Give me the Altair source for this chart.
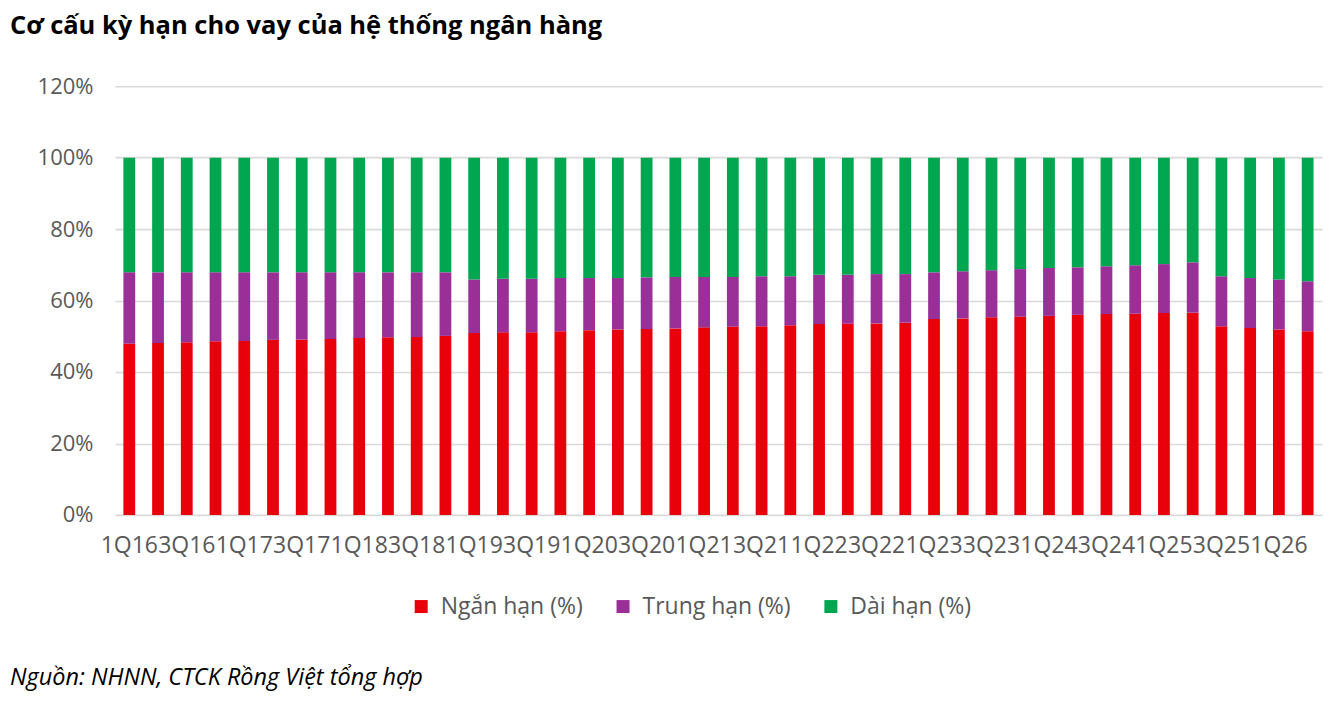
import altair as alt
import pandas as pd

quarters = [
    "1Q16", "2Q16", "3Q16", "4Q16", "1Q17", "2Q17", "3Q17", "4Q17",
    "1Q18", "2Q18", "3Q18", "4Q18", "1Q19", "2Q19", "3Q19", "4Q19",
    "1Q20", "2Q20", "3Q20", "4Q20", "1Q21", "2Q21", "3Q21", "4Q21",
    "1Q22", "2Q22", "3Q22", "4Q22", "1Q23", "2Q23", "3Q23", "4Q23",
    "1Q24", "2Q24", "3Q24", "4Q24", "1Q25", "2Q25", "3Q25", "4Q25",
    "1Q26", "2Q26",
]
tick_labels = [
    "1Q16", "3Q16", "1Q17", "3Q17", "1Q18", "3Q18", "1Q19", "3Q19",
    "1Q20", "3Q20", "1Q21", "3Q21", "1Q22", "3Q22", "1Q23", "3Q23",
    "1Q24", "3Q24", "1Q25", "3Q25", "1Q26",
]
ngan_han = [
    47.9, 48.1, 48.3, 48.6, 48.7, 49.0, 49.1, 49.2, 49.5, 49.7, 49.8, 50.1,
    50.9, 51.1, 51.1, 51.4, 51.7, 51.9, 52.0, 52.2, 52.5, 52.7, 52.8, 53.1,
    53.4, 53.5, 53.6, 53.8, 54.8, 55.0, 55.3, 55.5, 55.7, 56.0, 56.2, 56.3,
    56.5, 56.6, 52.8, 52.3, 51.9, 51.4,
]
trung_han = [
    20.0, 19.8, 19.6, 19.3, 19.2, 18.9, 18.8, 18.7, 18.4, 18.2, 18.1, 17.8,
    15.0, 15.0, 15.0, 14.9, 14.6, 14.4, 14.5, 14.4, 14.1, 13.9, 14.0, 13.7,
    13.8, 13.7, 13.8, 13.6, 13.1, 13.2, 13.2, 13.3, 13.4, 13.3, 13.4, 13.6,
    13.7, 14.1, 14.0, 14.0, 14.0, 14.0,
]
dai_han = [
    32.1, 32.1, 32.1, 32.1, 32.1, 32.1, 32.1, 32.1, 32.1, 32.1, 32.1, 32.1,
    34.1, 33.9, 33.9, 33.7, 33.7, 33.7, 33.5, 33.4, 33.4, 33.4, 33.2, 33.2,
    32.8, 32.8, 32.6, 32.6, 32.1, 31.8, 31.5, 31.2, 30.9, 30.7, 30.4, 30.1,
    29.8, 29.3, 33.2, 33.7, 34.1, 34.6,
]
series_names = ["Ngắn hạn (%)", "Trung hạn (%)", "Dài hạn (%)"]
series_colors = ["#E8000A", "#9A2F97", "#00A650"]
y_ticks = [0, 20, 40, 60, 80, 100, 120]

title_text = "Cơ cấu kỳ hạn cho vay của hệ thống ngân hàng"
source_text = "Nguồn: NHNN, CTCK Rồng Việt tổng hợp"

rows = []
for si, (name, vals) in enumerate(zip(series_names, [ngan_han, trung_han, dai_han])):
    for q, v in zip(quarters, vals):
        rows.append({"quy": q, "loai": name, "gia_tri": v, "thu_tu": si})
df = pd.DataFrame(rows)

FONT = "Open Sans"
TEXT_GRAY = "#595959"

bars = alt.Chart(df).mark_bar().encode(
    x=alt.X(
        "quy:N",
        sort=quarters,
        scale=alt.Scale(paddingInner=0.59, paddingOuter=0.295),
        axis=alt.Axis(
            title=None,
            values=tick_labels,
            labelOverlap=False,
            labelFlush=False,
            labelBound=False,
            labelAngle=0,
            labelFont=FONT,
            labelFontSize=23,
            labelColor=TEXT_GRAY,
            labelPadding=20,
            ticks=False,
            domain=False,
            grid=False,
        ),
    ),
    y=alt.Y(
        "gia_tri:Q",
        stack="zero",
        scale=alt.Scale(domain=[0, 120], nice=False),
        axis=alt.Axis(
            title=None,
            values=y_ticks,
            labelExpr="datum.value + '%'",
            labelFont=FONT,
            labelFontSize=22,
            labelColor=TEXT_GRAY,
            labelPadding=22,
            ticks=False,
            domain=False,
            grid=True,
            gridColor="#D9D9D9",
            gridWidth=1.6,
        ),
    ),
    color=alt.Color(
        "loai:N",
        scale=alt.Scale(domain=series_names, range=series_colors),
        legend=alt.Legend(
            title=None,
            orient="none",
            direction="horizontal",
            legendX=295,
            legendY=509,
            symbolType="square",
            symbolSize=169,
            symbolStrokeWidth=0,
            symbolOpacity=1,
            labelFont=FONT,
            labelFontSize=23,
            labelColor=TEXT_GRAY,
            labelOffset=8,
            labelLimit=300,
            columnPadding=28,
        ),
    ),
    order=alt.Order("thu_tu:Q", sort="ascending"),
)

source = alt.Chart(pd.DataFrame({"t": [source_text]})).mark_text(
    align="left",
    baseline="middle",
    font=FONT,
    fontSize=23.5,
    fontStyle="italic",
    color="#000000",
).encode(
    text="t:N",
    x=alt.value(-105),
    y=alt.value(592),
)

chart = alt.layer(bars, source).properties(
    width=1208,
    height=429,
    autosize=alt.AutoSizeParams(type="none"),
    padding={"left": 107, "top": 78, "right": 12, "bottom": 180},
    title=alt.TitleParams(
        text=title_text,
        anchor="start",
        frame="group",
        dx=-105,
        offset=36,
        font=FONT,
        fontSize=25.5,
        fontWeight="bold",
        color="#000000",
    ),
).configure_view(stroke=None)

chart.save("out.html", embed_options={"renderer": "svg", "actions": False})
